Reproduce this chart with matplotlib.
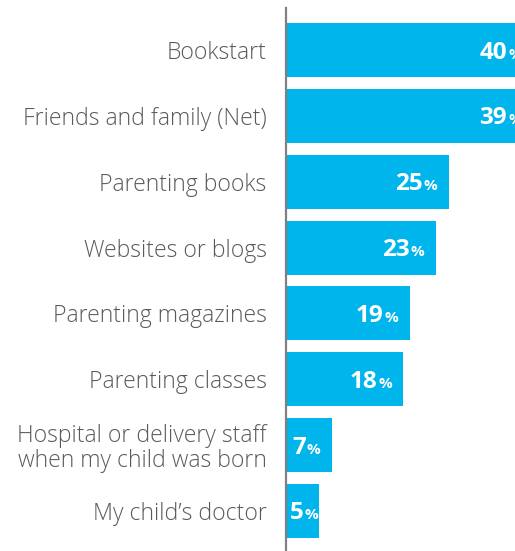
import matplotlib
matplotlib.use("Agg")
import matplotlib.pyplot as plt
import matplotlib.transforms as mtransforms

categories = [
    "Bookstart",
    "Friends and family (Net)",
    "Parenting books",
    "Websites or blogs",
    "Parenting magazines",
    "Parenting classes",
    "Hospital or delivery staff\nwhen my child was born",
    "My child\u2019s doctor",
]
values = [40, 39, 25, 23, 19, 18, 7, 5]

BAR = "#00b5ec"
TXT = "#5a5a5a"
DPI = 100
W, H = 515, 551
AXIS_X = 286
PX_PER = 6.5

fig = plt.figure(figsize=(W / DPI, H / DPI), dpi=DPI)
ax = fig.add_axes([AXIS_X / W, 0, 1 - AXIS_X / W, (H - 8) / H])

y = list(range(len(categories)))
ax.barh(y, values, height=0.82, color=BAR, zorder=2)
ax.set_ylim(7.61, -0.64)
ax.set_xlim(0, (W - AXIS_X) / PX_PER)

for s in ["top", "right", "bottom"]:
    ax.spines[s].set_visible(False)
ax.spines["left"].set_color("#808080")
ax.spines["left"].set_linewidth(1.6)
ax.spines["left"].set_zorder(3)
ax.set_xticks([])
ax.set_yticks(y)
ax.set_yticklabels(categories, fontsize=16.6, color=TXT, family="Open Sans",
                   fontweight="light", linespacing=1.08)
ax.tick_params(axis="y", length=0, pad=14)

fig.canvas.draw()
renderer = fig.canvas.get_renderer()
pad_px = 11
base_px = 8.5
max_right = (W - AXIS_X) + 7
for yi, v in zip(y, values):
    tmp_p = fig.text(0, 0, "%", fontsize=11, fontweight="bold", family="Open Sans")
    tmp_n = fig.text(0, 0, str(v), fontsize=17.5, fontweight="bold", family="Open Sans")
    wp = tmp_p.get_window_extent(renderer=renderer).width
    wn = tmp_n.get_window_extent(renderer=renderer).width
    tmp_p.remove()
    tmp_n.remove()
    bar_px = v * PX_PER
    right = bar_px - pad_px
    right = max(right, 4 + wn + 1 + wp)
    right = min(right, max_right)
    dx = right - bar_px
    tr = ax.transData + mtransforms.ScaledTranslation(dx / DPI, -base_px / DPI, fig.dpi_scale_trans)
    ax.text(v, yi, "%", transform=tr, ha="right", va="baseline", clip_on=False,
            fontsize=11, fontweight="bold", color="white", family="Open Sans", zorder=4)
    tr2 = ax.transData + mtransforms.ScaledTranslation((dx - wp - 1) / DPI, -base_px / DPI, fig.dpi_scale_trans)
    ax.text(v, yi, str(v), transform=tr2, ha="right", va="baseline", clip_on=False,
            fontsize=17.5, fontweight="bold", color="white", family="Open Sans", zorder=4)

fig.savefig("out.png", dpi=DPI)
